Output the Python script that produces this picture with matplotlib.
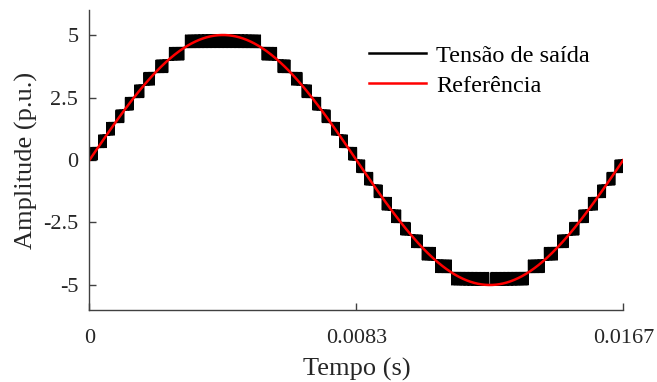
import numpy as np
import matplotlib
matplotlib.use("Agg")
import matplotlib.pyplot as plt
from matplotlib.lines import Line2D

plt.rcParams["font.family"] = ["Liberation Serif", "DejaVu Serif"]

# Inverter parameters
amplitude = 5.0          # peak of the reference (p.u.)
fundamental_hz = 60.0    # output frequency
level_step = 0.5         # voltage step between adjacent levels (p.u.)
carrier_hz = 24000.0     # switching carrier frequency

x_ticks = [0.0, 0.5 / fundamental_hz, 1.0 / fundamental_hz]
x_tick_labels = ["0", "0.0083", "0.0167"]
y_ticks = [-5, -2.5, 0, 2.5, 5]
y_tick_labels = ["-5", "-2.5", "0", "2.5", "5"]
series_labels = ["Tensão de saída", "Referência"]

period = 1.0 / fundamental_hz
t = np.linspace(0.0, period, 400001)
reference = amplitude * np.sin(2 * np.pi * fundamental_hz * t)

# Level-shifted PWM: switch between the two levels that bracket the reference
carrier_phase = (t * carrier_hz) % 1.0
carrier = 1.0 - np.abs(2.0 * carrier_phase - 1.0)
scaled = reference / level_step
lower = np.floor(scaled)
frac = scaled - lower
output = (lower + (frac > carrier)) * level_step

fig = plt.figure(figsize=(6.57, 3.82), dpi=100)
ax = fig.add_axes([0.1362, 0.1885, 0.8125, 0.7853])

ax.plot(t, output, color="black", lw=1.0)
ax.plot(t, reference, color="#ff0000", lw=1.8)

ax.set_xlim(0, period)
ax.set_ylim(-6, 6)
ax.set_xticks(x_ticks)
ax.set_xticklabels(x_tick_labels)
ax.set_yticks(y_ticks)
ax.set_yticklabels(y_tick_labels)

axis_color = "#404040"
for side in ("top", "right"):
    ax.spines[side].set_visible(False)
for side in ("left", "bottom"):
    ax.spines[side].set_color(axis_color)
    ax.spines[side].set_linewidth(1.0)
ax.tick_params(direction="in", length=5, width=1.0, color=axis_color,
               labelsize=16, labelcolor="#262626")
ax.tick_params(axis="x", pad=14)
ax.tick_params(axis="y", pad=8)

ax.set_xlabel("Tempo (s)", fontsize=19, color="#262626", labelpad=7)
ax.set_ylabel("Amplitude (p.u.)", fontsize=19, color="#262626", labelpad=4)

handles = [Line2D([], [], color="black", lw=1.8),
           Line2D([], [], color="#ff0000", lw=1.8)]
ax.legend(handles, series_labels, loc="upper left",
          bbox_to_anchor=(0.524, 0.885), frameon=False, fontsize=17.5,
          handlelength=2.35, handletextpad=0.4, labelspacing=0.33,
          borderaxespad=0.0, borderpad=0.0)

fig.savefig("out.png", dpi=100)
